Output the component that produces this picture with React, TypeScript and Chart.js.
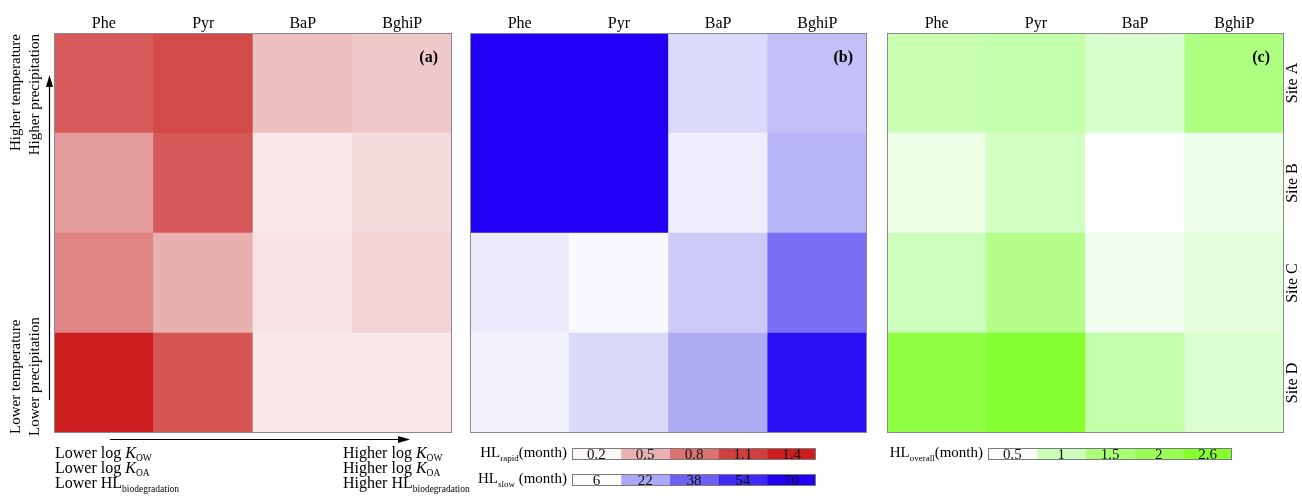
import React, { useEffect, useRef } from "react";
import { Chart, registerables } from "chart.js";
Chart.register(...registerables);

const W = 1302;
const H = 496;
const SERIF = '"Liberation Serif", "DejaVu Serif", serif';

const compounds = ["Phe", "Pyr", "BaP", "BghiP"];
const sites = ["Site A", "Site B", "Site C", "Site D"];

// Panel (a): HL rapid (month), columns Phe, Pyr, BaP, BghiP
const rapidSiteA = [0.94, 1.03, 0.44, 0.4];
const rapidSiteB = [0.61, 0.95, 0.27, 0.33];
const rapidSiteC = [0.71, 0.51, 0.29, 0.35];
const rapidSiteD = [1.4, 0.97, 0.26, 0.27];

// Panel (b): HL slow (month)
const slowSiteA = [75, 75, 12.4, 17.3];
const slowSiteB = [75, 75, 8.8, 19.4];
const slowSiteC = [9.2, 6.8, 15.4, 35];
const slowSiteD = [7.7, 12.6, 21.2, 64.7];

// Panel (c): HL overall (month)
const overallSiteA = [1.06, 1.12, 0.87, 1.43];
const overallSiteB = [0.67, 0.95, 0.5, 0.65];
const overallSiteC = [1.0, 1.37, 0.59, 0.74];
const overallSiteD = [2.3, 2.7, 1.13, 0.84];

// Colour-key tick labels
const rapidTicks = [0.2, 0.5, 0.8, 1.1, 1.4];
const slowTicks = [6, 22, 38, 54, 70];
const overallTicks = [0.5, 1, 1.5, 2, 2.6];

const rapidPalette = ["#fcf8f8", "#e9b2b2", "#da7272", "#d13e3e", "#cc1e1e"];
const slowPalette = ["#fcfcfe", "#aba7f5", "#6e62f5", "#3f2af5", "#2200f5"];
const overallPalette = ["#fcfffc", "#ccffbb", "#aaff77", "#99ff55", "#86ff30"];

function hexToRgb(h: string) {
  const n = parseInt(h.slice(1), 16);
  return [(n >> 16) & 255, (n >> 8) & 255, n & 255];
}

function colorFor(v: number, ticks: number[], palette: string[]) {
  if (v <= ticks[0]) return palette[0];
  if (v >= ticks[ticks.length - 1]) return palette[palette.length - 1];
  let i = 0;
  while (i < ticks.length - 2 && v > ticks[i + 1]) i++;
  const t = (v - ticks[i]) / (ticks[i + 1] - ticks[i]);
  const a = hexToRgb(palette[i]);
  const b = hexToRgb(palette[i + 1]);
  const c = a.map((x, k) => Math.round(x + (b[k] - x) * t));
  return `rgb(${c[0]},${c[1]},${c[2]})`;
}

type Seg = { t: string; size: number; dy?: number; italic?: boolean; bold?: boolean };

function fontOf(s: Seg) {
  return `${s.italic ? "italic " : ""}${s.bold ? "bold " : ""}${s.size}px ${SERIF}`;
}

function drawRich(ctx: CanvasRenderingContext2D, segs: Seg[], x: number, y: number, align: "left" | "right") {
  ctx.save();
  ctx.textAlign = "left";
  ctx.textBaseline = "alphabetic";
  ctx.fillStyle = "#000";
  const widths = segs.map((s) => {
    ctx.font = fontOf(s);
    return ctx.measureText(s.t).width;
  });
  const total = widths.reduce((a, b) => a + b, 0);
  let cx = align === "left" ? x : x - total;
  segs.forEach((s, i) => {
    ctx.font = fontOf(s);
    ctx.fillText(s.t, cx, y + (s.dy || 0));
    cx += widths[i];
  });
  ctx.restore();
}

function drawLeftNotes(ctx: CanvasRenderingContext2D) {
  ctx.save();
  ctx.fillStyle = "#000";
  ctx.strokeStyle = "#000";
  ctx.font = `15px ${SERIF}`;
  ctx.textBaseline = "middle";
  const rot = (txt: string, x: number, y: number, align: CanvasTextAlign) => {
    ctx.save();
    ctx.translate(x, y);
    ctx.rotate(-Math.PI / 2);
    ctx.textAlign = align;
    ctx.fillText(txt, 0, 0);
    ctx.restore();
  };
  rot("Higher temperature", 16, 34, "right");
  rot("Higher precipitation", 35, 34, "right");
  rot("Lower temperature", 16, 434, "left");
  rot("Lower precipitation", 35, 436, "left");

  // vertical arrow
  ctx.lineWidth = 1.2;
  ctx.beginPath();
  ctx.moveTo(49.5, 400);
  ctx.lineTo(49.5, 84);
  ctx.stroke();
  ctx.beginPath();
  ctx.moveTo(49.5, 75);
  ctx.lineTo(46, 87);
  ctx.lineTo(53, 87);
  ctx.closePath();
  ctx.fill();

  // horizontal arrow
  ctx.beginPath();
  ctx.moveTo(110, 439.5);
  ctx.lineTo(400, 439.5);
  ctx.stroke();
  ctx.beginPath();
  ctx.moveTo(410, 439.5);
  ctx.lineTo(398, 436);
  ctx.lineTo(398, 443);
  ctx.closePath();
  ctx.fill();
  ctx.restore();

  const lines = (word: string, x: number) => {
    drawRich(ctx, [{ t: `${word} log `, size: 16 }, { t: "K", size: 16, italic: true }, { t: "OW", size: 9.5, dy: 3 }], x, 458, "left");
    drawRich(ctx, [{ t: `${word} log `, size: 16 }, { t: "K", size: 16, italic: true }, { t: "OA", size: 9.5, dy: 3 }], x, 473, "left");
    drawRich(ctx, [{ t: `${word} HL`, size: 16 }, { t: "biodegradation", size: 9.5, dy: 4 }], x, 488, "left");
  };
  lines("Lower", 55);
  lines("Higher", 343);
}

function panelConfig(
  rows: number[][],
  ticks: number[],
  palette: string[],
  left: number,
  right: number,
  tag: string,
  showSites: boolean,
  extra?: (ctx: CanvasRenderingContext2D) => void
): any {
  const order = [3, 2, 1, 0]; // stack from bottom: Site D ... Site A
  return {
    type: "bar",
    data: {
      labels: compounds,
      datasets: order.map((i) => ({
        label: sites[i],
        data: compounds.map(() => 1),
        backgroundColor: rows[i].map((v) => colorFor(v, ticks, palette)),
        borderWidth: 0,
        categoryPercentage: 1,
        barPercentage: 1,
      })),
    },
    options: {
      animation: false,
      responsive: false,
      maintainAspectRatio: false,
      devicePixelRatio: 1,
      events: [],
      layout: { padding: { left, right: W - right, top: 33, bottom: H - 433 } },
      scales: {
        x: { stacked: true, display: false, offset: true },
        y: { stacked: true, display: false, min: 0, max: 4 },
      },
      plugins: { legend: { display: false }, tooltip: { enabled: false } },
    },
    plugins: [
      {
        id: "panelDecor",
        afterDraw(chart: any) {
          const ctx: CanvasRenderingContext2D = chart.ctx;
          const a = chart.chartArea;
          const xs = chart.scales.x;
          const ys = chart.scales.y;
          ctx.save();
          ctx.strokeStyle = "#8a8a8a";
          ctx.lineWidth = 1;
          ctx.strokeRect(Math.round(a.left) + 0.5, Math.round(a.top) + 0.5, Math.round(a.right - a.left) - 1, Math.round(a.bottom - a.top) - 1);
          ctx.fillStyle = "#000";
          ctx.font = `16px ${SERIF}`;
          ctx.textAlign = "center";
          ctx.textBaseline = "alphabetic";
          compounds.forEach((c, i) => ctx.fillText(c, xs.getPixelForValue(i), 28));
          ctx.font = `bold 16px ${SERIF}`;
          ctx.textAlign = "right";
          ctx.fillText(tag, a.right - 14, 62);
          if (showSites) {
            ctx.font = `16px ${SERIF}`;
            ctx.textAlign = "center";
            ctx.textBaseline = "middle";
            sites.forEach((s, i) => {
              ctx.save();
              ctx.translate(a.right + 9, ys.getPixelForValue(3.5 - i));
              ctx.rotate(-Math.PI / 2);
              ctx.fillText(s, 0, 0);
              ctx.restore();
            });
          }
          ctx.restore();
          if (extra) extra(ctx);
        },
      },
    ],
  };
}

function legendConfig(ticks: number[], palette: string[], x0: number, x1: number, y0: number, y1: number, title: Seg[]): any {
  return {
    type: "bar",
    data: {
      labels: ["key"],
      datasets: ticks.map((t, i) => ({
        label: String(t),
        data: [1],
        backgroundColor: colorFor(t, ticks, palette),
        borderWidth: 0,
        categoryPercentage: 1,
        barPercentage: 1,
      })),
    },
    options: {
      indexAxis: "y",
      animation: false,
      responsive: false,
      maintainAspectRatio: false,
      devicePixelRatio: 1,
      events: [],
      layout: { padding: { left: x0, right: W - x1, top: y0, bottom: H - y1 } },
      scales: {
        x: { stacked: true, display: false, min: 0, max: ticks.length },
        y: { stacked: true, display: false },
      },
      plugins: { legend: { display: false }, tooltip: { enabled: false } },
    },
    plugins: [
      {
        id: "legendDecor",
        afterDraw(chart: any) {
          const ctx: CanvasRenderingContext2D = chart.ctx;
          const a = chart.chartArea;
          const xs = chart.scales.x;
          ctx.save();
          ctx.strokeStyle = "#7a7a7a";
          ctx.lineWidth = 1;
          ctx.strokeRect(Math.round(a.left) + 0.5, Math.round(a.top) + 0.5, Math.round(a.right - a.left) - 1, Math.round(a.bottom - a.top) - 1);
          ctx.fillStyle = "#111";
          ctx.font = `15px ${SERIF}`;
          ctx.textAlign = "center";
          ctx.textBaseline = "alphabetic";
          ticks.forEach((t, i) => ctx.fillText(String(t), xs.getPixelForValue(i + 0.5), a.bottom - 1));
          ctx.restore();
          drawRich(ctx, title, a.left - 5, a.bottom - 3, "right");
        },
      },
    ],
  };
}

export default function App() {
  const r0 = useRef<HTMLCanvasElement>(null);
  const r1 = useRef<HTMLCanvasElement>(null);
  const r2 = useRef<HTMLCanvasElement>(null);
  const r3 = useRef<HTMLCanvasElement>(null);
  const r4 = useRef<HTMLCanvasElement>(null);
  const r5 = useRef<HTMLCanvasElement>(null);
  const refs = [r0, r1, r2, r3, r4, r5];

  useEffect(() => {
    const rapidRows = [rapidSiteA, rapidSiteB, rapidSiteC, rapidSiteD];
    const slowRows = [slowSiteA, slowSiteB, slowSiteC, slowSiteD];
    const overallRows = [overallSiteA, overallSiteB, overallSiteC, overallSiteD];
    const charts = [
      new Chart(r0.current!, panelConfig(rapidRows, rapidTicks, rapidPalette, 54, 452, "(a)", false, drawLeftNotes)),
      new Chart(r1.current!, panelConfig(slowRows, slowTicks, slowPalette, 470, 867, "(b)", false)),
      new Chart(r2.current!, panelConfig(overallRows, overallTicks, overallPalette, 887, 1284, "(c)", true)),
      new Chart(
        r3.current!,
        legendConfig(rapidTicks, rapidPalette, 572, 816, 448, 460, [
          { t: "HL", size: 15 },
          { t: "rapid", size: 9, dy: 4 },
          { t: "(month)", size: 15 },
        ])
      ),
      new Chart(
        r4.current!,
        legendConfig(slowTicks, slowPalette, 572, 816, 474, 486, [
          { t: "HL", size: 15 },
          { t: "slow", size: 9, dy: 4 },
          { t: " (month)", size: 15 },
        ])
      ),
      new Chart(
        r5.current!,
        legendConfig(overallTicks, overallPalette, 988, 1232, 448, 460, [
          { t: "HL", size: 15 },
          { t: "overall", size: 9, dy: 4 },
          { t: "(month)", size: 15 },
        ])
      ),
    ];
    return () => charts.forEach((c) => c.destroy());
  }, []);

  return (
    <div style={{ position: "absolute", left: 0, top: 0, width: W, height: H, background: "#fff" }}>
      {refs.map((r, i) => (
        <canvas key={i} ref={r} width={W} height={H} style={{ position: "absolute", left: 0, top: 0, width: W, height: H }} />
      ))}
    </div>
  );
}
